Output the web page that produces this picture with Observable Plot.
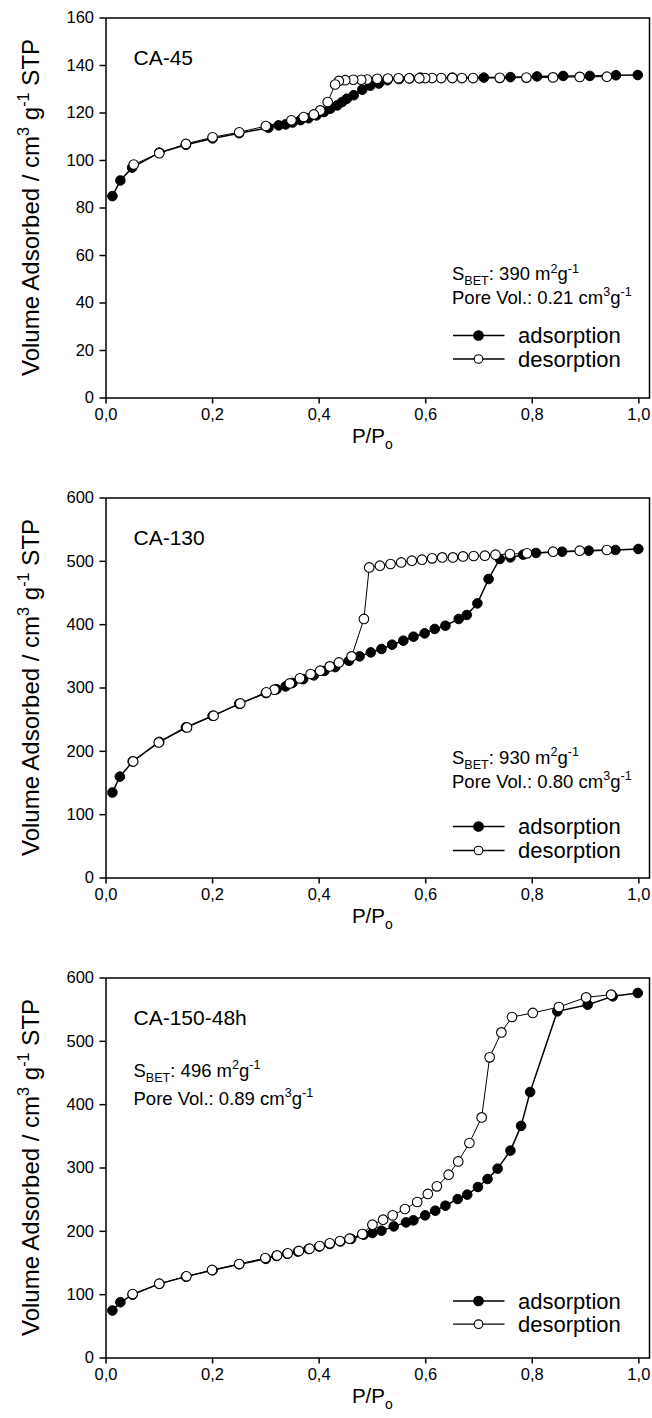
<!DOCTYPE html>
<html><head><meta charset="utf-8">
<script src="https://cdn.jsdelivr.net/npm/d3@7"></script>
<script src="https://cdn.jsdelivr.net/npm/@observablehq/plot@0.6"></script>
<style>
body{margin:0;background:#fff;}
#chart svg{display:block;}
</style>
</head><body><div id="chart"></div>
<script>
// ---- data ----
const panelNames = ["CA-45", "CA-130", "CA-150-48h"];
const sbetValues = ["390", "930", "496"];
const poreVolValues = ["0.21", "0.80", "0.89"];
const yMaxes = [160, 600, 600];
const ySteps = [20, 100, 100];
const xTicks = [0, 0.2, 0.4, 0.6, 0.8, 1.0];
const seriesNames = ["adsorption", "desorption"];

const ca45AdsX = [0.012,0.027,0.049,0.10,0.15,0.20,0.25,0.305,0.324,0.337,0.35,0.365,0.38,0.395,0.409,0.421,0.434,0.443,0.452,0.465,0.481,0.496,0.512,0.528,0.55,0.57,0.59,0.65,0.709,0.759,0.809,0.858,0.908,0.957,0.998];
const ca45AdsY = [85,91.6,97,103.3,106.6,109.3,111.5,113.8,114.8,115.2,116,117,117.8,119,120.4,121.8,123.2,124.6,126,127.5,129.8,131.5,132.4,133.8,134.3,134.6,134.9,134.9,134.9,135.1,135.4,135.6,135.6,135.9,136];
const ca45DesX = [0.94,0.889,0.839,0.789,0.739,0.689,0.668,0.65,0.629,0.612,0.599,0.588,0.569,0.549,0.529,0.509,0.49,0.479,0.464,0.449,0.437,0.43,0.416,0.402,0.39,0.371,0.348,0.30,0.25,0.20,0.15,0.10,0.052];
const ca45DesY = [135.3,135.2,135.0,134.9,134.8,134.7,134.7,134.7,134.7,134.7,134.7,134.6,134.6,134.6,134.5,134.4,134.1,134.0,134.0,133.8,133.5,132,124.6,121.1,119.4,118.3,116.9,114.5,111.9,109.8,107,103.1,98.3];

const ca130AdsX = [0.012,0.026,0.05,0.10,0.15,0.20,0.25,0.30,0.32,0.337,0.35,0.37,0.39,0.41,0.43,0.456,0.476,0.497,0.517,0.537,0.558,0.577,0.598,0.617,0.637,0.662,0.677,0.697,0.718,0.739,0.759,0.783,0.807,0.856,0.906,0.956,0.999];
const ca130AdsY = [135,160,184,215,238,256,275,292,298,302.5,308,314,320,327,333,343,350,356.2,361.6,368.4,374.7,381,386.2,393.2,398.4,409,415.3,433.6,472.1,503.7,506.2,510.5,513.2,515.2,516.8,517.9,519.5];
const ca130DesX = [0.94,0.889,0.839,0.79,0.758,0.731,0.711,0.69,0.67,0.651,0.631,0.612,0.593,0.574,0.554,0.534,0.514,0.494,0.484,0.461,0.437,0.42,0.402,0.384,0.364,0.345,0.316,0.301,0.252,0.202,0.152,0.099,0.051];
const ca130DesY = [517.9,516.8,515.2,512.6,511.6,510.5,508.9,508.4,507.8,506.2,506.2,504.7,502.6,501,498.3,495.8,493.1,490.4,409,349.9,340.4,334.1,327.3,322.1,315.2,307.3,297.3,293.1,275.7,256.3,237.8,214.1,184.1];

const ca150AdsX = [0.012,0.027,0.05,0.10,0.15,0.20,0.25,0.30,0.32,0.34,0.36,0.38,0.40,0.42,0.44,0.46,0.484,0.50,0.517,0.54,0.563,0.577,0.599,0.618,0.637,0.66,0.678,0.698,0.716,0.735,0.759,0.779,0.796,0.847,0.904,0.951,0.998];
const ca150AdsY = [75,88,100,117,128.5,138.5,148,156.5,161,164.5,168,172,176,180,184,188,194.7,197.4,201,207.8,214.1,217.3,225.2,232.6,240.5,251,257.9,270,282.6,299,327.5,366.5,420,547.3,557.8,571,576.3];
const ca150DesX = [0.948,0.901,0.85,0.801,0.762,0.742,0.72,0.705,0.682,0.661,0.643,0.621,0.604,0.584,0.561,0.538,0.52,0.5,0.481,0.457,0.439,0.42,0.401,0.382,0.362,0.341,0.321,0.299,0.25,0.199,0.151,0.10,0.05];
const ca150DesY = [573.7,569.4,554.2,544.8,538.4,514.1,474.7,379.9,339.5,310.4,289.4,271,259,246.3,235.3,225.2,218.4,210.5,195.8,188.4,184.7,181,176.8,172.6,169,165.2,162,157.9,148.4,139,128.9,117.3,101];

const adsX = [ca45AdsX, ca130AdsX, ca150AdsX];
const adsY = [ca45AdsY, ca130AdsY, ca150AdsY];
const desX = [ca45DesX, ca130DesX, ca150DesX];
const desY = [ca45DesY, ca130DesY, ca150DesY];

// ---- layout / style ----
const FONT = "'Liberation Sans', Arial, Helvetica, sans-serif";
const W = 652, ML = 105.5, MR = 3, MT = 17.5, PH = 380;
const heights = [480, 480, 458];
const infoPos = [
  {x: 452, sbet: -117.5, pore: -94, fromBottom: true},
  {x: 452, sbet: -114, pore: -90, fromBottom: true},
  {x: 133.5, sbet: 99, pore: 127, fromBottom: false}
];
const legendPos = [[-62, -38.5], [-51, -27], [-56.5, -33.3]];

function rich(sel, parts, fs) {
  let shift = 0;
  for (const [t, type] of parts) {
    const target = type === "sup" ? -0.4 * fs : type === "sub" ? 0.28 * fs : 0;
    sel.append("tspan").attr("dy", target - shift).attr("font-size", type ? fs * 0.68 : fs).text(t);
    shift = target;
  }
}

const container = document.getElementById("chart");
const fmt = d => d.toFixed(1).replace(".", ",");

for (let i = 0; i < 3; i++) {
  const ads = adsX[i].map((x, k) => ({x, y: adsY[i][k]}));
  const des = desX[i].map((x, k) => ({x, y: desY[i][k]}));
  const H = heights[i];
  const yTicks = d3.range(0, yMaxes[i] + 1, ySteps[i]);
  const plot = Plot.plot({
    width: W, height: H,
    marginLeft: ML, marginRight: MR, marginTop: MT, marginBottom: H - MT - PH,
    style: {fontFamily: FONT, fontSize: "16.5px", color: "black", background: "white", overflow: "visible"},
    x: {domain: [0, 1.02], label: null},
    y: {domain: [0, yMaxes[i]], label: null},
    marks: [
      Plot.axisX({ticks: xTicks, tickFormat: fmt, tickSize: 6, tickPadding: 4, strokeWidth: 1.5, label: null, fontSize: 16.5}),
      Plot.axisY({ticks: yTicks, tickSize: 6, tickPadding: 6, strokeWidth: 1.5, label: null, fontSize: 16.5}),
      Plot.line(ads, {x: "x", y: "y", stroke: "black", strokeWidth: 1.5}),
      Plot.dot(ads, {x: "x", y: "y", r: 4.8, fill: "black", stroke: "black", strokeWidth: 1}),
      Plot.line(des, {x: "x", y: "y", stroke: "black", strokeWidth: 1}),
      Plot.dot(des, {x: "x", y: "y", r: 4.8, fill: "white", stroke: "black", strokeWidth: 1.1}),
      Plot.frame({stroke: "black", strokeWidth: 1.5})
    ]
  });
  container.appendChild(plot);
  const svg = d3.select(plot);
  const top = MT, bottom = MT + PH;
  const g = svg.append("g").attr("font-family", FONT).attr("fill", "black").attr("text-anchor", "start");

  // y-axis label
  const yl = g.append("text")
    .attr("transform", `translate(39,${(top + bottom) / 2}) rotate(-90)`)
    .attr("text-anchor", "middle");
  rich(yl, [["Volume Adsorbed / cm", ""], ["3", "sup"], [" g", ""], ["-1", "sup"], [" STP", ""]], 24);

  // x-axis label
  const xl = g.append("text")
    .attr("x", ML + (W - MR - ML) / 1.02 * 0.5 - 20)
    .attr("y", bottom + 45.5);
  rich(xl, [["P/P", ""], ["o", "sub"]], 20.5);

  // sample name
  g.append("text").attr("x", 133.5).attr("y", top + 47.5).attr("font-size", 21).text(panelNames[i]);

  // S_BET and pore volume
  const ip = infoPos[i];
  const base = ip.fromBottom ? bottom : top;
  const s = g.append("text").attr("x", ip.x).attr("y", base + ip.sbet);
  rich(s, [["S", ""], ["BET", "sub"], [": " + sbetValues[i] + " m", ""], ["2", "sup"], ["g", ""], ["-1", "sup"]], 18.5);
  const p = g.append("text").attr("x", ip.x).attr("y", base + ip.pore);
  rich(p, [["Pore Vol.: " + poreVolValues[i] + " cm", ""], ["3", "sup"], ["g", ""], ["-1", "sup"]], 18.5);

  // legend
  seriesNames.forEach((name, k) => {
    const cy = bottom + legendPos[i][k];
    g.append("line").attr("x1", 453).attr("x2", 504.5).attr("y1", cy).attr("y2", cy)
      .attr("stroke", "black").attr("stroke-width", 1.3);
    g.append("circle").attr("cx", 478.5).attr("cy", cy).attr("r", k === 0 ? 4.8 : 4.3)
      .attr("fill", k === 0 ? "black" : "white").attr("stroke", "black").attr("stroke-width", 1.1);
    g.append("text").attr("x", 518).attr("y", cy).attr("dy", "0.35em").attr("font-size", 22).text(name);
  });
}
</script>
</body></html>
